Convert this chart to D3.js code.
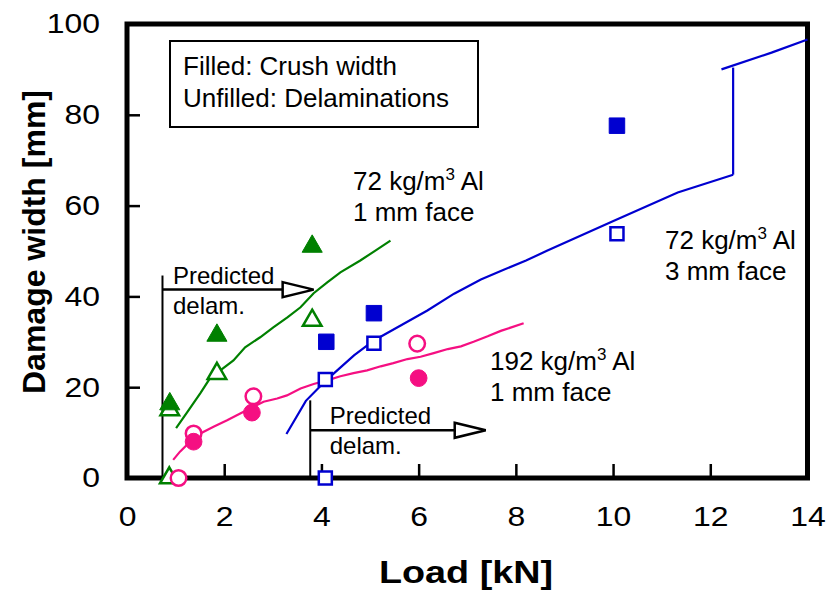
<!DOCTYPE html>
<html>
<head>
<meta charset="utf-8">
<script src="https://cdn.jsdelivr.net/npm/d3@7"></script>
<style>
  body { margin: 0; background: #fff; }
  text { font-family: Arial, "Liberation Sans", Helvetica, sans-serif; }
</style>
</head>
<body>
<script>
// axis ticks
const xTicks = [0, 2, 4, 6, 8, 10, 12, 14];
const yTicks = [0, 20, 40, 60, 80, 100];

// 72 kg/m3 Al, 1 mm face (green)
const greenLine = [[1.01, 11.0], [1.24, 14.5], [1.51, 18.7], [1.71, 22.0], [1.92, 23.7], [2.19, 25.9],
  [2.43, 28.8], [2.74, 31.0], [3.01, 33.2], [3.30, 35.4], [3.57, 37.6], [3.84, 40.7], [4.12, 43.1],
  [4.39, 45.3], [4.80, 47.9], [5.11, 50.1], [5.42, 52.3]];
const greenCrush = [[0.88, 16.3], [1.85, 31.4], [3.81, 51.0]];
const greenDelam = [[0.87, 0], [0.88, 15.0], [1.85, 23.0], [3.81, 34.7]];

// 192 kg/m3 Al, 1 mm face (pink)
const pinkLine = [[0.95, 4.0], [1.09, 5.8], [1.30, 8.0], [1.51, 9.8], [1.78, 11.3], [2.06, 12.7],
  [2.33, 14.2], [2.60, 15.7], [2.81, 16.8], [3.09, 17.5], [3.29, 18.2], [3.57, 19.7], [3.84, 20.7],
  [4.12, 21.5], [4.39, 22.4], [4.66, 23.1], [4.94, 23.7], [5.22, 24.6], [5.48, 25.3], [5.77, 26.2],
  [6.04, 26.7], [6.31, 27.5], [6.60, 28.4], [6.87, 29.0], [7.13, 30.0], [7.42, 31.2], [7.69, 32.4],
  [8.16, 34.1]];
const pinkCrush = [[1.37, 8.0], [2.57, 14.4], [6.0, 22.0]];
const pinkDelam = [[1.06, 0], [1.37, 9.8], [2.60, 18.0], [5.97, 29.6]];

// 72 kg/m3 Al, 3 mm face (blue)
const blueLine = [[3.28, 9.7], [3.68, 17.0], [4.0, 20.5], [4.25, 23.0], [4.67, 27.0], [5.08, 30.3],
  [5.63, 33.6], [6.18, 36.9], [6.73, 40.6], [7.28, 43.7], [7.69, 45.6], [8.21, 47.9], [8.65, 50.1],
  [10.03, 56.7], [11.33, 62.9], [12.47, 66.8]];
const blueJump = [[12.47, 66.8], [12.47, 90.4]];
const blueUpper = [[12.23, 90.0], [13.26, 93.7], [14.0, 96.6]];
const blueCrush = [[4.10, 30.0], [5.08, 36.3], [10.08, 77.6]];
const blueDelam = [[4.08, 0], [4.08, 21.7], [5.08, 29.7], [10.08, 53.8]];

const green = "#008000", pink = "#f50f82", blue = "#0000d0";

const width = 831, height = 595;
const svg = d3.select("body").append("svg")
  .attr("width", width)
  .attr("height", height);

const x = d3.scaleLinear().domain([0, 14]).range([127, 807.5]);
const y = d3.scaleLinear().domain([0, 100]).range([478, 24]);

// tick labels in the picture are drawn a little wide
const stretch = 1.14;

// axes, ticks pointing inward
const xAxis = svg.append("g")
  .attr("transform", `translate(0,${y(0)})`)
  .call(d3.axisBottom(x).tickValues(xTicks).tickSizeInner(-14).tickSizeOuter(0).tickPadding(28));
const yAxis = svg.append("g")
  .attr("transform", `translate(${x(0)},0)`)
  .call(d3.axisLeft(y).tickValues(yTicks).tickSizeInner(-13).tickSizeOuter(0).tickPadding(27));
[xAxis, yAxis].forEach(a => {
  a.select(".domain").remove();
  a.selectAll(".tick line").attr("stroke", "#000").attr("stroke-width", 2.5);
  a.selectAll(".tick text").attr("font-size", 28).attr("fill", "#000")
    .attr("font-family", "Arial, 'Liberation Sans', sans-serif")
    .attr("transform", `scale(${stretch},1)`);
});
yAxis.selectAll(".tick text").attr("x", -27 / stretch);

// frame
svg.append("rect")
  .attr("x", x(0)).attr("y", y(100))
  .attr("width", x(14) - x(0)).attr("height", y(0) - y(100))
  .attr("fill", "none").attr("stroke", "#000").attr("stroke-width", 5);

// axis titles
svg.append("text")
  .attr("transform", "translate(466,583) scale(1.18,1)")
  .attr("text-anchor", "middle")
  .attr("font-size", 32).attr("font-weight", "bold")
  .text("Load [kN]");
svg.append("text")
  .attr("transform", "translate(45,242) rotate(-90)")
  .attr("text-anchor", "middle")
  .attr("font-size", 32).attr("font-weight", "bold")
  .text("Damage width [mm]");

// legend box
svg.append("rect")
  .attr("x", 170).attr("y", 41).attr("width", 308).attr("height", 86)
  .attr("fill", "#fff").attr("stroke", "#000").attr("stroke-width", 2);
svg.append("text").attr("x", 183).attr("y", 75).attr("font-size", 26).text("Filled: Crush width");
svg.append("text").attr("x", 183).attr("y", 107).attr("font-size", 26).text("Unfilled: Delaminations");

// predicted delamination arrows
function predicted(xv, yTop, yArrow, xTip, tx) {
  const g = svg.append("g");
  g.append("line")
    .attr("x1", x(xv)).attr("x2", x(xv)).attr("y1", y(yTop)).attr("y2", y(0))
    .attr("stroke", "#000").attr("stroke-width", 2);
  const xa = x(xTip) - 31;
  g.append("line")
    .attr("x1", x(xv)).attr("x2", xa).attr("y1", y(yArrow)).attr("y2", y(yArrow))
    .attr("stroke", "#000").attr("stroke-width", 2.5);
  g.append("path")
    .attr("d", `M${xa},${y(yArrow) - 7.5}L${x(xTip)},${y(yArrow)}L${xa},${y(yArrow) + 7.5}Z`)
    .attr("fill", "#fff").attr("stroke", "#000").attr("stroke-width", 2.5);
  g.append("text").attr("x", x(xv) + tx).attr("y", y(yArrow) - 6).attr("font-size", 24).text("Predicted");
  g.append("text").attr("x", x(xv) + tx).attr("y", y(yArrow) + 24).attr("font-size", 24).text("delam.");
}
predicted(0.73, 44.6, 41.5, 3.84, 10.5);
predicted(3.77, 17.1, 10.5, 7.38, 19.5);

// series labels
function label(px, py, dens, face) {
  const t = svg.append("text").attr("x", px).attr("y", py).attr("font-size", 26);
  t.append("tspan").text(dens + " kg/m");
  t.append("tspan").attr("font-size", 17).attr("dy", -10).text("3");
  t.append("tspan").attr("dy", 10).text(" Al");
  svg.append("text").attr("x", px).attr("y", py + 31).attr("font-size", 26).text(face);
}
label(353, 190, "72", "1 mm face");
label(665, 249, "72", "3 mm face");
label(490, 370, "192", "1 mm face");

// curves
const line = d3.line().x(d => x(d[0])).y(d => y(d[1]));
[[greenLine, green], [pinkLine, pink], [blueLine, blue], [blueJump, blue], [blueUpper, blue]]
  .forEach(([data, c]) => {
    svg.append("path").datum(data).attr("d", line)
      .attr("fill", "none").attr("stroke", c).attr("stroke-width", 2.2);
  });

// markers
function markers(data, type, size, c, filled) {
  svg.append("g").selectAll("path").data(data).join("path")
    .attr("transform", d => `translate(${x(d[0])},${y(d[1])})`)
    .attr("d", d3.symbol().type(type).size(size))
    .attr("fill", filled ? c : "#fff")
    .attr("stroke", c)
    .attr("stroke-width", filled ? 1 : 2.5);
}
markers(greenDelam, d3.symbolTriangle, 150, green, false);
markers(greenCrush, d3.symbolTriangle, 175, green, true);
markers(pinkDelam, d3.symbolCircle, 190, pink, false);
markers(pinkCrush, d3.symbolCircle, 220, pink, true);
markers(blueDelam, d3.symbolSquare, 170, blue, false);
markers(blueCrush, d3.symbolSquare, 240, blue, true);
</script>
</body>
</html>
